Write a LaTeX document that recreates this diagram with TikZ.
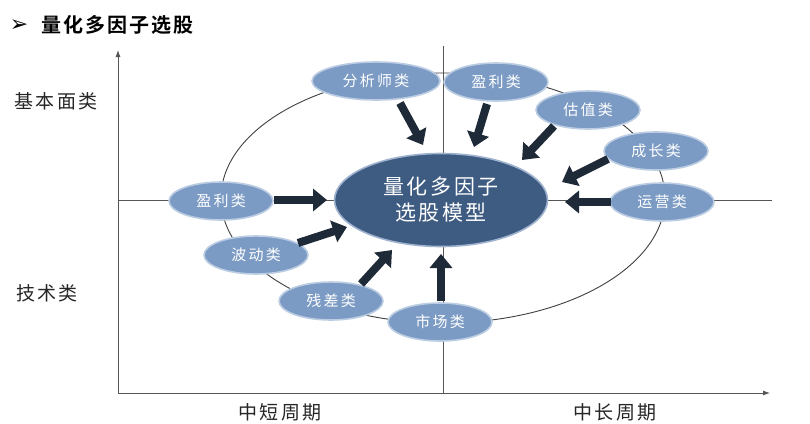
\documentclass[tikz,border=0pt]{standalone}
\usepackage{fontspec}
\setmainfont{Noto Sans CJK SC}
\newfontfamily\cjkfont{Noto Sans CJK SC}
\newfontfamily\cjkbold{Noto Sans CJK SC Bold}
\newfontfamily\dvfont{DejaVu Sans}
\usetikzlibrary{shapes.geometric,arrows.meta}
\definecolor{facfill}{HTML}{7B9BC4}
\definecolor{facedge}{HTML}{BCCDE3}
\definecolor{bigfill}{HTML}{3E5B82}
\definecolor{bigedge}{HTML}{9FB3CF}
\definecolor{arrcol}{HTML}{1F2A38}
\definecolor{linecol}{HTML}{555555}
\tikzset{
  fac/.style={ellipse, fill=facfill, draw=facedge, line width=1.6pt,
    minimum width=104pt, minimum height=38pt, inner sep=0pt, text=white,
    font={\fontsize{15}{15}\cjkfont\addfontfeature{LetterSpace=15}}},
  bignode/.style={ellipse, fill=bigfill, draw=bigedge, line width=1.6pt,
    minimum width=213pt, minimum height=93pt, inner sep=0pt, text=white, align=center,
    font={\fontsize{21}{26}\cjkfont\addfontfeature{LetterSpace=12}}},
  bar/.style={draw=arrcol, line width=8pt, -{Triangle[width=22pt,length=14pt]}},
  axis/.style={draw=linecol, line width=0.9pt},
  ring/.style={draw=black!75, line width=0.9pt},
  lbl/.style={font={\fontsize{19}{19}\cjkfont\addfontfeature{LetterSpace=12}}, text=black!85, inner sep=0pt}
}
\begin{document}
\begin{tikzpicture}[x=1pt,y=-1pt]
\useasboundingbox (0,0) rectangle (810,423);
\fill[white] (0,0) rectangle (810,423);
% title
\node[inner sep=0pt, font={\fontsize{22}{22}\dvfont}] (tarr) at (19,26) {➢};
\node[anchor=west, inner sep=0pt, font={\fontsize{20}{20}\cjkbold\addfontfeature{LetterSpace=10}}] (title) at (41,25) {量化多因子选股};
% axes
\coordinate (o) at (118,393);
\coordinate (ytop) at (118,50);
\coordinate (xend) at (770,393);
\draw[axis,-{Latex[length=7pt,width=5pt]}] (o) -- (ytop);
\draw[axis,-{Latex[length=7pt,width=5pt]}] (o) -- (xend);
\coordinate (vt) at (443,46);
\coordinate (vb) at (443,393);
\coordinate (hl) at (118,200);
\coordinate (hr) at (772,200);
\draw[axis,line width=0.7pt] (vt) -- (vb);
\draw[axis,line width=0.7pt] (hl) -- (hr);
% ring
\coordinate (rc) at (443,198);
\draw[ring] (rc) ellipse [x radius=222, y radius=125];
% labels
\node[lbl] (lf) at (56,101) {基本面类};
\node[lbl] (lt) at (47,293) {技术类};
\node[lbl] (ls) at (280,412) {中短周期};
\node[lbl] (ll) at (615,412) {中长周期};
% nodes
\node[bignode] (big) at (441,200) {量化多因子\\选股模型};
\node[fac, minimum width=128pt] (n1) at (376,81) {分析师类};
\node[fac] (n2) at (496,82) {盈利类};
\node[fac] (n3) at (588,110) {估值类};
\node[fac] (n4) at (656,151) {成长类};
\node[fac] (n5) at (662,202) {运营类};
\node[fac] (m1) at (221,201) {盈利类};
\node[fac] (m2) at (256,255) {波动类};
\node[fac] (m3) at (331,301) {残差类};
\node[fac] (m4) at (440,322) {市场类};
% arrows
\coordinate (a1s) at (400,103); \coordinate (a1e) at (423,145);
\coordinate (a2s) at (487,104); \coordinate (a2e) at (474,147);
\coordinate (a3s) at (554,126); \coordinate (a3e) at (522,160);
\coordinate (a4s) at (608,159); \coordinate (a4e) at (562,182);
\coordinate (a5s) at (611,202); \coordinate (a5e) at (565,202);
\coordinate (b1s) at (274,200); \coordinate (b1e) at (327,200);
\coordinate (b2s) at (298,243); \coordinate (b2e) at (347,227);
\coordinate (b3s) at (361,284); \coordinate (b3e) at (392,250);
\coordinate (b4s) at (441,301); \coordinate (b4e) at (441,254);
\foreach \s/\e in {a1s/a1e,a2s/a2e,a3s/a3e,a4s/a4e,a5s/a5e,b1s/b1e,b2s/b2e,b3s/b3e,b4s/b4e}
  \draw[bar] (\s) -- (\e);
\end{tikzpicture}
\end{document}
